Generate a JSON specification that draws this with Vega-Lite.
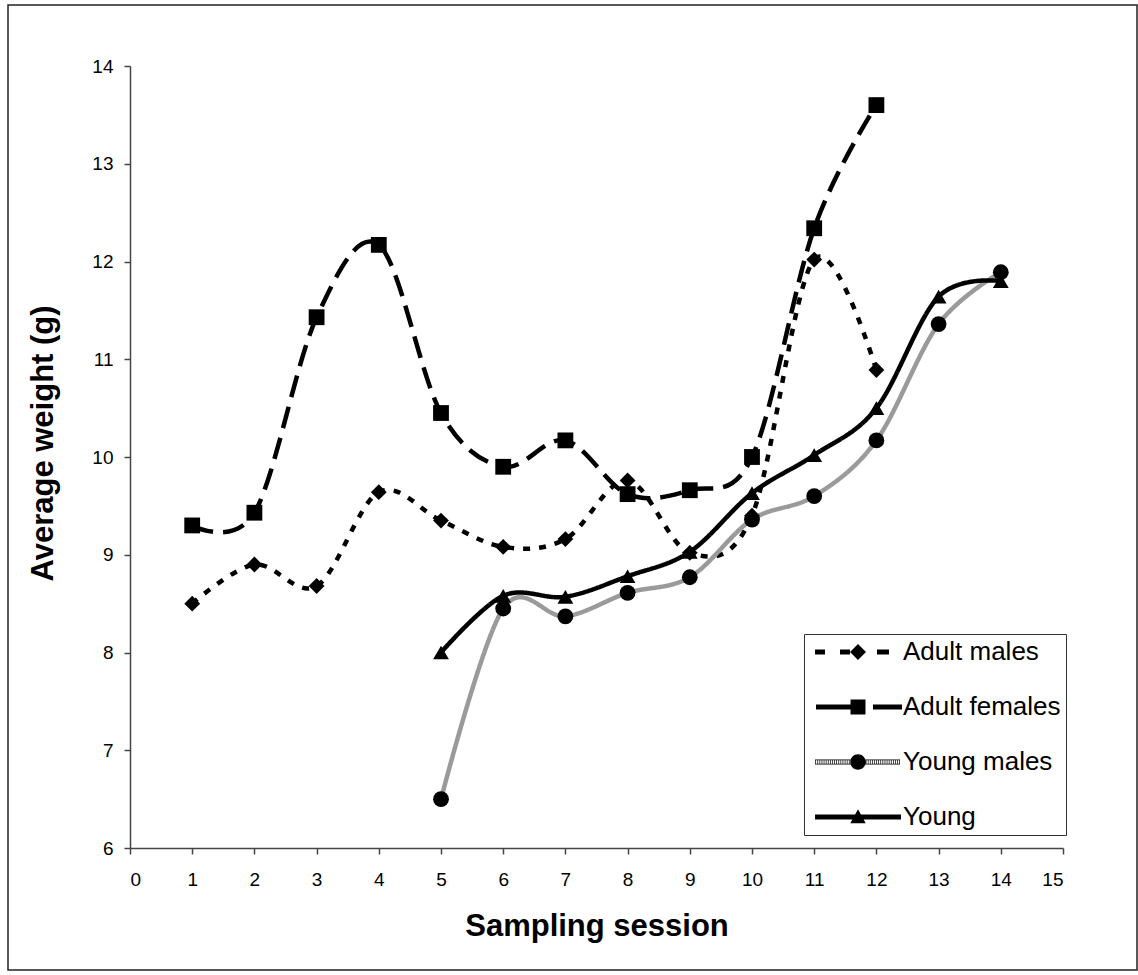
{
  "$schema": "https://vega.github.io/schema/vega-lite/v6.json",
  "width": 1129,
  "height": 965,
  "autosize": {"type": "none"},
  "padding": {"left": 8, "top": 5, "right": 1, "bottom": 5},
  "background": "white",
  "config": {
    "view": {"stroke": "#222222", "strokeWidth": 1.5},
    "font": "Liberation Sans"
  },
  "data": {
    "values": [
      {"series": "Adult males", "session": 1, "weight": 8.50},
      {"series": "Adult males", "session": 2, "weight": 8.90},
      {"series": "Adult males", "session": 3, "weight": 8.68},
      {"series": "Adult males", "session": 4, "weight": 9.64},
      {"series": "Adult males", "session": 5, "weight": 9.35},
      {"series": "Adult males", "session": 6, "weight": 9.08},
      {"series": "Adult males", "session": 7, "weight": 9.16},
      {"series": "Adult males", "session": 8, "weight": 9.76},
      {"series": "Adult males", "session": 9, "weight": 9.02},
      {"series": "Adult males", "session": 10, "weight": 9.40},
      {"series": "Adult males", "session": 11, "weight": 12.02},
      {"series": "Adult males", "session": 12, "weight": 10.89},
      {"series": "Adult females", "session": 1, "weight": 9.30},
      {"series": "Adult females", "session": 2, "weight": 9.43},
      {"series": "Adult females", "session": 3, "weight": 11.43},
      {"series": "Adult females", "session": 4, "weight": 12.17},
      {"series": "Adult females", "session": 5, "weight": 10.45},
      {"series": "Adult females", "session": 6, "weight": 9.90},
      {"series": "Adult females", "session": 7, "weight": 10.17},
      {"series": "Adult females", "session": 8, "weight": 9.62},
      {"series": "Adult females", "session": 9, "weight": 9.66},
      {"series": "Adult females", "session": 10, "weight": 10.00},
      {"series": "Adult females", "session": 11, "weight": 12.34},
      {"series": "Adult females", "session": 12, "weight": 13.60},
      {"series": "Young males", "session": 5, "weight": 6.50},
      {"series": "Young males", "session": 6, "weight": 8.45},
      {"series": "Young males", "session": 7, "weight": 8.37},
      {"series": "Young males", "session": 8, "weight": 8.61},
      {"series": "Young males", "session": 9, "weight": 8.77},
      {"series": "Young males", "session": 10, "weight": 9.36},
      {"series": "Young males", "session": 11, "weight": 9.60},
      {"series": "Young males", "session": 12, "weight": 10.17},
      {"series": "Young males", "session": 13, "weight": 11.36},
      {"series": "Young males", "session": 14, "weight": 11.89},
      {"series": "Young", "session": 5, "weight": 8.00},
      {"series": "Young", "session": 6, "weight": 8.58},
      {"series": "Young", "session": 7, "weight": 8.57},
      {"series": "Young", "session": 8, "weight": 8.78},
      {"series": "Young", "session": 9, "weight": 9.03},
      {"series": "Young", "session": 10, "weight": 9.63},
      {"series": "Young", "session": 11, "weight": 10.02},
      {"series": "Young", "session": 12, "weight": 10.50},
      {"series": "Young", "session": 13, "weight": 11.64},
      {"series": "Young", "session": 14, "weight": 11.80}
    ]
  },
  "encoding": {
    "x": {
      "field": "session", "type": "quantitative",
      "scale": {"domain": [0, 15], "range": [122, 1055], "nice": false, "zero": false},
      "axis": {
        "title": "Sampling session", "values": [0,1,2,3,4,5,6,7,8,9,10,11,12,13,14,15],
        "offset": -122, "grid": false,
        "domainColor": "#444444", "domainWidth": 1.5, "tickColor": "#444444", "tickWidth": 1.5, "tickSize": 6,
        "labelFont": "Liberation Sans", "labelFontSize": 19, "labelColor": "#000000", "labelPadding": 16,
        "titleFont": "Liberation Sans", "titleFontSize": 31, "titleFontWeight": "bold", "titleColor": "#000000",
        "titleBaseline": "alphabetic", "titleY": 87
      }
    },
    "y": {
      "field": "weight", "type": "quantitative",
      "scale": {"domain": [6, 14], "range": [843, 61], "nice": false, "zero": false},
      "axis": {
        "title": "Average weight (g)", "values": [6,7,8,9,10,11,12,13,14],
        "offset": -122, "grid": false,
        "domainColor": "#444444", "domainWidth": 1.5, "tickColor": "#444444", "tickWidth": 1.5, "tickSize": 6,
        "labelFont": "Liberation Sans", "labelFontSize": 19, "labelColor": "#000000", "labelPadding": 11,
        "titleFont": "Liberation Sans", "titleFontSize": 31, "titleFontWeight": "bold", "titleColor": "#000000",
        "titleAngle": -90, "titleBaseline": "alphabetic", "titleX": -78, "titleY": 438
      }
    }
  },
  "resolve": {"scale": {"shape": "independent"}},
  "layer": [
    {
      "mark": {"type": "line", "interpolate": "cardinal", "tension": 0, "strokeWidth": 4.5},
      "encoding": {
        "detail": {"field": "series", "type": "nominal"},
        "color": {
          "field": "series", "type": "nominal",
          "scale": {"range": ["#000000", "#000000", "#000000", "#9a9a9a"]},
          "legend": null
        },
        "strokeDash": {
          "field": "series", "type": "nominal",
          "scale": {"range": [[22, 10], [7, 9], [1, 0], [1, 0]]},
          "legend": null
        }
      }
    },
    {
      "mark": {"type": "point", "filled": true, "opacity": 1, "color": "#000000", "size": 250, "strokeWidth": 0},
      "encoding": {
        "shape": {
          "field": "series", "type": "nominal",
          "scale": {"range": ["square", "diamond", "triangle-up", "circle"]},
          "legend": null
        }
      }
    },
    {
      "transform": [{"filter": "false"}],
      "mark": {"type": "point", "filled": true, "opacity": 1, "color": "#000000", "strokeWidth": 0},
      "encoding": {
        "shape": {
          "field": "series", "type": "nominal",
          "scale": {
            "domain": ["Adult males", "Adult females", "Young males", "Young"],
            "range": [
              "M-6.14,-0.36H-4.71V0.36H-6.14Z M-2.57,-0.36H-1.14V0.36H-2.57Z M-1.14,0L0,-1.14L1.14,0L0,1.14Z M2.71,-0.36H4.43V0.36H2.71Z",
              "M-6,-0.36H-1V0.36H-6Z M-1.07,-1.07H1.07V1.07H-1.07Z M2.14,-0.36H6.29V0.36H2.14Z",
              "M-6.14,-0.36H6V-0.26H-6.14Z M-6.14,0.26H6V0.36H-6.14Z M-6.1,-0.36h0.1v0.72h-0.1z M-5.8,-0.36h0.1v0.72h-0.1z M-5.5,-0.36h0.1v0.72h-0.1z M-5.2,-0.36h0.1v0.72h-0.1z M-4.9,-0.36h0.1v0.72h-0.1z M-4.6,-0.36h0.1v0.72h-0.1z M-4.3,-0.36h0.1v0.72h-0.1z M-4,-0.36h0.1v0.72h-0.1z M-3.7,-0.36h0.1v0.72h-0.1z M-3.4,-0.36h0.1v0.72h-0.1z M-3.1,-0.36h0.1v0.72h-0.1z M-2.8,-0.36h0.1v0.72h-0.1z M-2.5,-0.36h0.1v0.72h-0.1z M-2.2,-0.36h0.1v0.72h-0.1z M-1.9,-0.36h0.1v0.72h-0.1z M-1.6,-0.36h0.1v0.72h-0.1z M-1.3,-0.36h0.1v0.72h-0.1z M1.1,-0.36h0.1v0.72h-0.1z M1.4,-0.36h0.1v0.72h-0.1z M1.7,-0.36h0.1v0.72h-0.1z M2,-0.36h0.1v0.72h-0.1z M2.3,-0.36h0.1v0.72h-0.1z M2.6,-0.36h0.1v0.72h-0.1z M2.9,-0.36h0.1v0.72h-0.1z M3.2,-0.36h0.1v0.72h-0.1z M3.5,-0.36h0.1v0.72h-0.1z M3.8,-0.36h0.1v0.72h-0.1z M4.1,-0.36h0.1v0.72h-0.1z M4.4,-0.36h0.1v0.72h-0.1z M4.7,-0.36h0.1v0.72h-0.1z M5,-0.36h0.1v0.72h-0.1z M5.3,-0.36h0.1v0.72h-0.1z M5.6,-0.36h0.1v0.72h-0.1z M5.9,-0.36h0.1v0.72h-0.1z M-1.1,0A1.1,1.1,0,1,1,1.1,0A1.1,1.1,0,1,1,-1.1,0Z",
              "M-6.14,-0.36H6.14V0.36H-6.14Z M-1.1,0.9L0,-1.1L1.1,0.9Z"
            ]
          },
          "legend": {
            "title": null, "orient": "none", "legendX": 796, "legendY": 629,
            "strokeColor": "#333333", "padding": 5,
            "labelFont": "Liberation Sans", "labelFontSize": 26, "labelColor": "#000000",
            "labelOffset": 32, "symbolOffset": 36, "rowPadding": 29, "symbolSize": 196,
            "symbolOpacity": 1, "symbolFillColor": "#000000", "symbolStrokeWidth": 0,
            "labelLimit": 400
          }
        }
      }
    }
  ]
}
